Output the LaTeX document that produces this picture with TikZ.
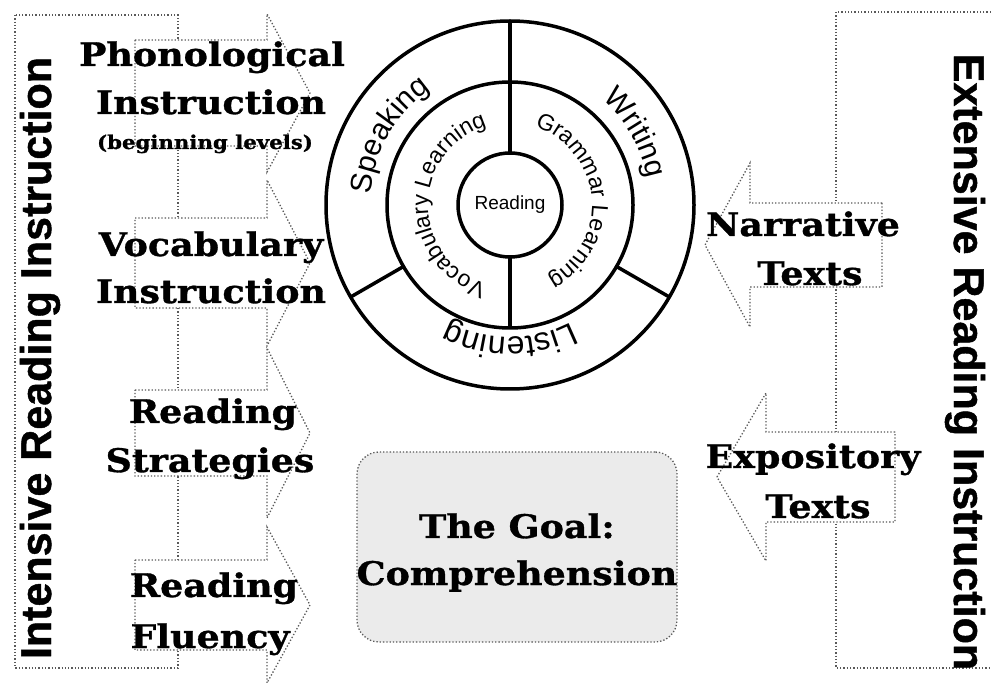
\documentclass[tikz,border=0pt]{standalone}
\usepackage{fontspec}
\setmainfont{Liberation Sans}
\newfontfamily\slab[FakeStretch=1.12, FakeBold=1]{DejaVu Serif}
\newfontfamily\heavysans[FakeBold=1]{Liberation Sans}
\usetikzlibrary{decorations.text}
\tikzset{
  frame/.style={draw=black!65, dotted, line width=1.3pt},
  barrow/.style={draw=black!65, dotted, line width=1.3pt, fill=white},
  lbl/.style={font=\slab\bfseries\fontsize{32.5}{32.5}\selectfont, anchor=base, inner sep=0pt},
  small lbl/.style={font=\slab\bfseries\fontsize{19}{19}\selectfont, anchor=base, inner sep=0pt},
  vlbl/.style={font=\heavysans\bfseries\fontsize{43}{43}\selectfont, inner sep=0pt},
  ring/.style={draw=black, line width=3.5pt},
  ringtext/.style={decorate, decoration={text along path, text align=center, text={#1}}},
}
\begin{document}
\begin{tikzpicture}[x=1pt, y=1pt]
\useasboundingbox (0,0) rectangle (991,686);
% frames
\draw[frame] (15,671) rectangle (178,18);
\draw[frame] (991,674) -- (836,674) -- (836,18) -- (991,18);
% left block arrows
\draw[barrow] (135,646)--(267,646)--(267,672)--(310,593)--(267,514)--(267,540)--(135,540)--cycle;
\draw[barrow] (135,468)--(267,468)--(267,506)--(310,423)--(267,340)--(267,378)--(135,378)--cycle;
\draw[barrow] (135,296)--(267,296)--(267,338)--(310,253)--(267,168)--(267,210)--(135,210)--cycle;
\draw[barrow] (135,126)--(267,126)--(267,159)--(310,81)--(267,3)--(267,36)--(135,36)--cycle;
% right block arrows
\draw[barrow] (882,483)--(750,483)--(750,523)--(705,441)--(750,359)--(750,399)--(882,399)--cycle;
\draw[barrow] (895,254)--(766,254)--(766,293)--(717,209)--(766,125)--(766,164)--(895,164)--cycle;
% vertical titles
\node[vlbl, rotate=90] (intensive) at (40,328) {Intensive Reading Instruction};
\node[vlbl, rotate=-90] (extensive) at (965,324) {Extensive Reading Instruction};
% left labels
\node[lbl] (ph1) at (212,620) {Phonological};
\node[lbl] (ph2) at (211,572) {Instruction};
\node[small lbl] (ph3) at (205,537) {(beginning levels)};
\node[lbl] (voc1) at (211,430) {Vocabulary};
\node[lbl] (voc2) at (211,383) {Instruction};
\node[lbl] (rs1) at (213,263) {Reading};
\node[lbl] (rs2) at (210,214) {Strategies};
\node[lbl] (rf1) at (214,89) {Reading};
\node[lbl] (rf2) at (210,38) {Fluency};
% right labels
\node[lbl] (n1) at (803,450) {Narrative};
\node[lbl] (n2) at (810,401) {Texts};
\node[lbl] (e1) at (813,218) {Expository};
\node[lbl] (e2) at (818,168) {Texts};
% goal
\node[draw=black!65, dotted, line width=1.3pt, fill=black!8, rounded corners=22pt,
      minimum width=320pt, minimum height=190pt] (goal) at (517,139) {};
\node[lbl] (g1) at (517,148) {The Goal:};
\node[lbl] (g2) at (517,101) {Comprehension};
% circle
\coordinate (c) at (510,481);
\draw[ring] (c) circle[radius=184pt];
\draw[ring] (c) circle[radius=123pt];
\node[circle, ring, minimum size=104pt, inner sep=0pt, font=\fontsize{19}{19}\selectfont] (core) at (c) {Reading};
\draw[ring] ([shift={(90:52pt)}]c) -- ([shift={(90:184pt)}]c);
\draw[ring] ([shift={(270:52pt)}]c) -- ([shift={(270:123pt)}]c);
\draw[ring] ([shift={(210:123pt)}]c) -- ([shift={(210:184pt)}]c);
\draw[ring] ([shift={(330:123pt)}]c) -- ([shift={(330:184pt)}]c);
\path[ringtext={|\fontsize{30}{30}\selectfont|Speaking}] ([shift={(195:140pt)}]c) arc[start angle=195, end angle=105, radius=140pt];
\path[ringtext={|\fontsize{30}{30}\selectfont|Writing}] ([shift={(75:140pt)}]c) arc[start angle=75, end angle=-15, radius=140pt];
\path[ringtext={|\fontsize{32}{32}\selectfont|Listening}] ([shift={(330:132pt)}]c) arc[start angle=330, end angle=210, radius=132pt];
\path[ringtext={|\fontsize{23}{23}\selectfont|Vocabulary Learning}] ([shift={(265:82pt)}]c) arc[start angle=265, end angle=95, radius=82pt];
\path[ringtext={|\fontsize{23}{23}\selectfont|Grammar Learning}] ([shift={(85:82pt)}]c) arc[start angle=85, end angle=-75, radius=82pt];
\end{tikzpicture}
\end{document}
